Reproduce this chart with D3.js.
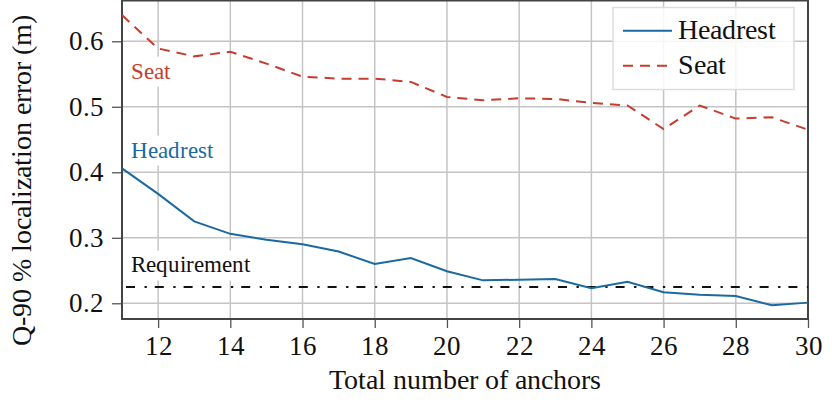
<!DOCTYPE html>
<html>
<head>
<meta charset="utf-8">
<script src="https://cdn.jsdelivr.net/npm/d3@7"></script>
<style>
  @font-face { font-family: "ChartSerif"; src: local("Liberation Serif"), local("LiberationSerif"), local("Tinos"); }
  body { margin: 0; background: #fff; }
</style>
</head>
<body>
<script>
// anchors on the x axis
var anchors = [11,12,13,14,15,16,17,18,19,20,21,22,23,24,25,26,27,28,29,30];
// Q-90 error per anchor count
var headrest = [0.406,0.367,0.325,0.306,0.297,0.290,0.279,0.260,0.269,0.249,0.235,0.236,0.237,0.223,0.233,0.217,0.213,0.211,0.197,0.201];
var seat = [0.640,0.589,0.577,0.584,0.566,0.546,0.543,0.543,0.538,0.515,0.510,0.513,0.512,0.506,0.502,0.466,0.502,0.482,0.484,0.465];
var requirement = 0.225;
var xTicks = [12,14,16,18,20,22,24,26,28,30];
var yTicks = [0.2,0.3,0.4,0.5,0.6];

var width = 832, height = 402;
var blue = "#1a6aa0", red = "#c63d2d";
var serif = "ChartSerif, Tinos, 'Nimbus Roman'";

var xScale = d3.scaleLinear().domain([11,30]).range([122,808]);
var yScale = d3.scaleLinear().domain([0.176,0.6623]).range([319,0.5]);

var svg = d3.select("body").append("svg")
  .attr("width", width)
  .attr("height", height)
  .attr("font-family", serif);

// grid
svg.append("g")
  .selectAll("line")
  .data(xTicks)
  .enter().append("line")
  .attr("x1", function(d){ return xScale(d); })
  .attr("x2", function(d){ return xScale(d); })
  .attr("y1", yScale.range()[0])
  .attr("y2", yScale.range()[1])
  .attr("stroke", "#c4c4c4")
  .attr("stroke-width", 1.5);

svg.append("g")
  .selectAll("line")
  .data(yTicks)
  .enter().append("line")
  .attr("x1", xScale.range()[0])
  .attr("x2", xScale.range()[1])
  .attr("y1", function(d){ return yScale(d); })
  .attr("y2", function(d){ return yScale(d); })
  .attr("stroke", "#c4c4c4")
  .attr("stroke-width", 1.5);

// axes
var xAxis = svg.append("g")
  .attr("transform", "translate(0," + yScale.range()[0] + ")")
  .call(d3.axisBottom(xScale).tickValues(xTicks).tickSize(9).tickPadding(6));
var yAxis = svg.append("g")
  .attr("transform", "translate(" + xScale.range()[0] + ",0)")
  .call(d3.axisLeft(yScale).tickValues(yTicks).tickFormat(d3.format(".1f")).tickSize(10).tickPadding(8));

[xAxis, yAxis].forEach(function(ax){
  ax.attr("font-family", serif).attr("font-size", 27);
  ax.select(".domain").remove();
  ax.selectAll(".tick line").attr("stroke", "#555").attr("stroke-width", 1.3);
  ax.selectAll(".tick text")
    .attr("fill", "#111")
    .attr("font-family", serif)
    .style("font-size", "27px");
});
xAxis.selectAll(".tick text").attr("dy", "0.78em");

// frame
svg.append("rect")
  .attr("x", xScale.range()[0])
  .attr("y", yScale.range()[1])
  .attr("width", xScale.range()[1] - xScale.range()[0])
  .attr("height", yScale.range()[0] - yScale.range()[1])
  .attr("fill", "none")
  .attr("stroke", "#444")
  .attr("stroke-width", 2);

// requirement line
svg.append("line")
  .attr("x1", xScale(11))
  .attr("x2", xScale(30))
  .attr("y1", yScale(requirement))
  .attr("y2", yScale(requirement))
  .attr("stroke", "#111")
  .attr("stroke-width", 2)
  .attr("stroke-dasharray", "9,9.5,2.3,8")
  .attr("stroke-dashoffset", 24.8);

var line = d3.line()
  .x(function(d, i){ return xScale(anchors[i]); })
  .y(function(d){ return yScale(d); });

svg.append("path")
  .datum(headrest)
  .attr("d", line)
  .attr("fill", "none")
  .attr("stroke", blue)
  .attr("stroke-width", 2);

svg.append("path")
  .datum(seat)
  .attr("d", line)
  .attr("fill", "none")
  .attr("stroke", red)
  .attr("stroke-width", 2)
  .attr("stroke-dasharray", "10,7");

// labels inside plot, white box behind
function label(txt, xv, yv, color){
  var g = svg.append("g");
  g.append("rect")
    .attr("x", xScale(xv) - 4)
    .attr("y", yScale(yv) - 22)
    .attr("width", txt.length * 10.6 + 6)
    .attr("height", 30)
    .attr("fill", "#fff");
  g.append("text")
    .attr("x", xScale(xv))
    .attr("y", yScale(yv))
    .attr("fill", color)
    .attr("font-family", serif)
    .style("font-size", "22.5px")
    .text(txt);
}
label("Seat", 11.24, 0.543, red);
label("Headrest", 11.24, 0.4225, blue);
label("Requirement", 11.24, 0.247, "#111");

// legend
var legend = svg.append("g");
legend.append("rect")
  .attr("x", 613)
  .attr("y", 7.5)
  .attr("width", 181)
  .attr("height", 82)
  .attr("fill", "#fff")
  .attr("fill-opacity", 0.85)
  .attr("stroke", "#ddd")
  .attr("stroke-width", 1.5);
var entries = [["Headrest", blue, null], ["Seat", red, "10,7"]];
entries.forEach(function(d, i){
  legend.append("line")
    .attr("x1", 623).attr("x2", 672)
    .attr("y1", 30.7 + i*35).attr("y2", 30.7 + i*35)
    .attr("stroke", d[1])
    .attr("stroke-width", 2)
    .attr("stroke-dasharray", d[2]);
  legend.append("text")
    .attr("x", 678)
    .attr("y", 38.5 + i*35)
    .attr("fill", "#111")
    .attr("font-family", serif)
    .style("font-size", "28px")
    .text(d[0]);
});

// axis titles
svg.append("text")
  .attr("x", (xScale.range()[0] + xScale.range()[1]) / 2)
  .attr("y", 388.5)
  .attr("text-anchor", "middle")
  .attr("fill", "#111")
  .attr("font-family", serif)
  .style("font-size", "28px")
  .text("Total number of anchors");

svg.append("text")
  .attr("transform", "translate(31,180) rotate(-90)")
  .attr("text-anchor", "middle")
  .attr("fill", "#111")
  .attr("font-family", serif)
  .style("font-size", "28px")
  .text("Q-90 % localization error (m)");
</script>
</body>
</html>
